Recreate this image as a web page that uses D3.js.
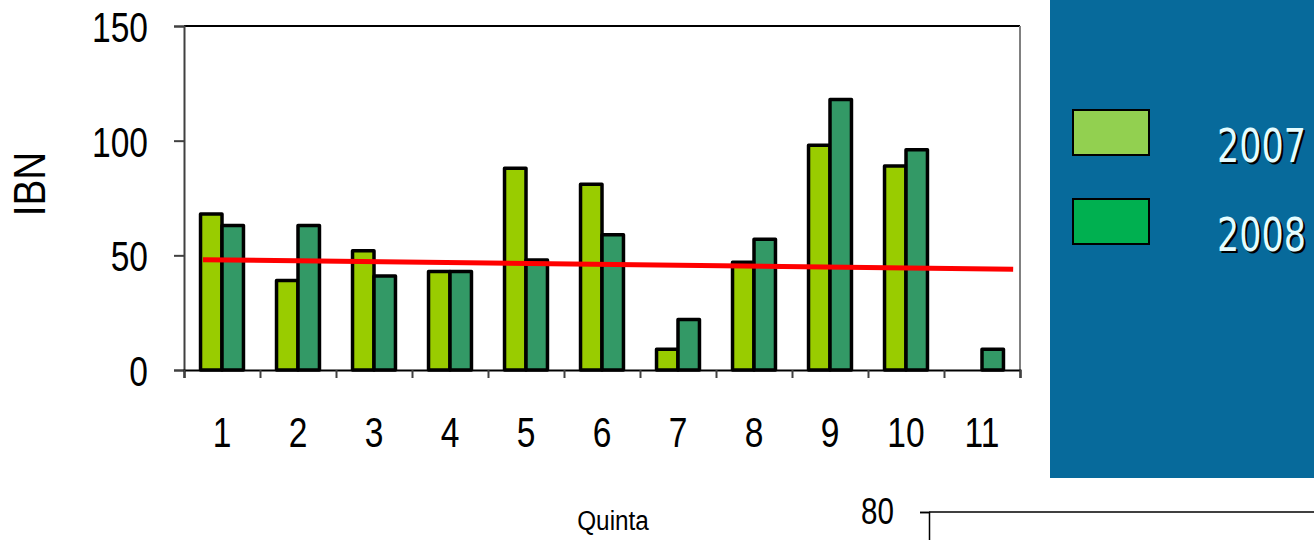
<!DOCTYPE html>
<html lang="pt">
<head>
<meta charset="UTF-8">
<title>IBN por Quinta</title>
<script src="https://d3js.org/d3.v7.min.js"></script>
<style>
  body { margin: 0; background: #fff; }
  svg { display: block; }
  .tick text { font-family: "Liberation Sans", Arial, sans-serif; fill: #000; }
</style>
</head>
<body>
<svg width="1314" height="540"></svg>
<script>
// data
const categories = ["1", "2", "3", "4", "5", "6", "7", "8", "9", "10", "11"];
const seriesNames = ["2007", "2008"];
const ibn2007 = [68, 39, 52, 43, 88, 81, 9, 47, 98, 89, null];
const ibn2008 = [63, 63, 41, 43, 48, 59, 22, 57, 118, 96, 9];
const yTicks = [0, 50, 100, 150];
// linear trend line, ends given in category units
const trendPos = [0.75, 11.41];
const trendVal = [48.1, 43.9];
const lowerTicks = [80];

const barColors = ["#99cc00", "#339966"];
const legendColors = ["#92d050", "#00b050"];

const svg = d3.select("svg");
const m = { left: 184, right: 1020, top: 26, bottom: 370 };

const x0 = d3.scaleBand().domain(categories).range([m.left, m.right]).padding(0);
const x1 = d3.scaleBand().domain(seriesNames).range([0, x0.bandwidth()])
  .paddingInner(0).paddingOuter(0.77);
const xLin = d3.scaleLinear().domain([0.5, categories.length + 0.5]).range([m.left, m.right]);
const y = d3.scaleLinear().domain([0, 150]).range([m.bottom, m.top]);

// squeeze text horizontally around its anchor
function narrow(sel, k) {
  sel.each(function () {
    const t = d3.select(this);
    const xx = +t.attr("x") || 0;
    const yy = +t.attr("y") || 0;
    t.attr("x", xx / k).attr("transform", `scale(${k},1)`).attr("y", yy);
  });
}

// plot frame: top black, right grey
svg.append("line").attr("x1", m.left).attr("x2", m.right).attr("y1", m.top).attr("y2", m.top)
  .attr("stroke", "#000").attr("stroke-width", 2);
svg.append("line").attr("x1", m.right).attr("x2", m.right).attr("y1", m.top).attr("y2", m.bottom)
  .attr("stroke", "#808080").attr("stroke-width", 2);

// bars
const rows = categories.map((c, i) => ({ cat: c, vals: [ibn2007[i], ibn2008[i]] }));
const groups = svg.append("g").selectAll("g").data(rows).join("g")
  .attr("transform", d => `translate(${x0(d.cat)},0)`);
groups.selectAll("rect")
  .data(d => d.vals.map((v, j) => ({ key: seriesNames[j], v, j })).filter(d => d.v != null))
  .join("rect")
  .attr("x", d => x1(d.key))
  .attr("width", x1.bandwidth())
  .attr("y", d => y(d.v))
  .attr("height", d => y(0) - y(d.v))
  .attr("fill", d => barColors[d.j])
  .attr("stroke", "#000")
  .attr("stroke-width", 3.5)
  .attr("stroke-linejoin", "round");

// y axis
const yAxis = svg.append("g").attr("transform", `translate(${m.left},0)`)
  .call(d3.axisLeft(y).tickValues(yTicks).tickSize(10).tickPadding(26));
yAxis.select(".domain").attr("stroke", "#404040").attr("stroke-width", 2);
yAxis.selectAll(".tick line").attr("stroke", "#404040").attr("stroke-width", 2);
yAxis.selectAll(".tick text").attr("font-size", 43).attr("dy", "0.36em");
narrow(yAxis.selectAll(".tick text"), 0.78);

// x axis: ticks on band edges
const edges = d3.range(0.5, categories.length + 1.5, 1);
const xTickAxis = svg.append("g").attr("transform", `translate(0,${m.bottom})`)
  .call(d3.axisBottom(xLin).tickValues(edges).tickSize(8).tickFormat(""));
xTickAxis.select(".domain").attr("stroke", "#000").attr("stroke-width", 2);
xTickAxis.selectAll(".tick line").attr("stroke", "#404040").attr("stroke-width", 2);

const xLab = svg.append("g").attr("transform", `translate(0,${m.bottom})`)
  .call(d3.axisBottom(x0).tickSize(0).tickPadding(77));
xLab.select(".domain").remove();
xLab.selectAll(".tick text").attr("font-size", 43).attr("dy", "0");
narrow(xLab.selectAll(".tick text"), 0.78);

// trend line
svg.append("line")
  .attr("x1", xLin(trendPos[0])).attr("y1", y(trendVal[0]))
  .attr("x2", xLin(trendPos[1])).attr("y2", y(trendVal[1]))
  .attr("stroke", "#ff0000").attr("stroke-width", 5);

// axis titles
svg.append("text")
  .attr("transform", "translate(45,184) rotate(-90) scale(0.88,1)")
  .attr("text-anchor", "middle")
  .attr("font-family", "Liberation Sans, Arial, sans-serif")
  .attr("font-size", 44)
  .text("IBN");

svg.append("text")
  .attr("transform", "translate(613,530) scale(0.9,1)")
  .attr("text-anchor", "middle")
  .attr("font-family", "Liberation Sans, Arial, sans-serif")
  .attr("font-size", 27)
  .text("Quinta");

// legend panel
svg.append("rect").attr("x", 1050).attr("y", 0).attr("width", 264).attr("height", 478)
  .attr("fill", "#076a9b");
const leg = svg.append("g").selectAll("g").data(seriesNames).join("g")
  .attr("transform", (d, i) => `translate(0,${i * 89})`);
leg.append("rect").attr("x", 1073).attr("y", 110).attr("width", 76).attr("height", 45)
  .attr("fill", (d, i) => legendColors[i]).attr("stroke", "#000").attr("stroke-width", 2);
leg.append("text")
  .attr("transform", "translate(1219,164) scale(0.76,1)")
  .attr("font-family", "DejaVu Sans, Verdana, sans-serif")
  .attr("font-size", 46).attr("fill", "#000")
  .text(d => d);
leg.append("text")
  .attr("transform", "translate(1217,162) scale(0.76,1)")
  .attr("font-family", "DejaVu Sans, Verdana, sans-serif")
  .attr("font-size", 46).attr("fill", "#e4fcff")
  .text(d => d);

// top of the next chart, cut by the page edge
const y2 = d3.scaleLinear().domain([60, 80]).range([600, 512]);
svg.append("line").attr("x1", 929).attr("x2", 1314).attr("y1", 512).attr("y2", 512)
  .attr("stroke", "#000").attr("stroke-width", 1.5);
const y2Axis = svg.append("g").attr("transform", "translate(929,0)")
  .call(d3.axisLeft(y2).tickValues(lowerTicks).tickSize(9).tickPadding(26));
y2Axis.select(".domain").attr("stroke", "#000").attr("stroke-width", 1.5);
y2Axis.selectAll(".tick line").attr("stroke", "#000").attr("stroke-width", 1.5);
y2Axis.selectAll(".tick text").attr("font-size", 37).attr("dy", "0.3em");
narrow(y2Axis.selectAll(".tick text"), 0.8);
</script>
</body>
</html>
